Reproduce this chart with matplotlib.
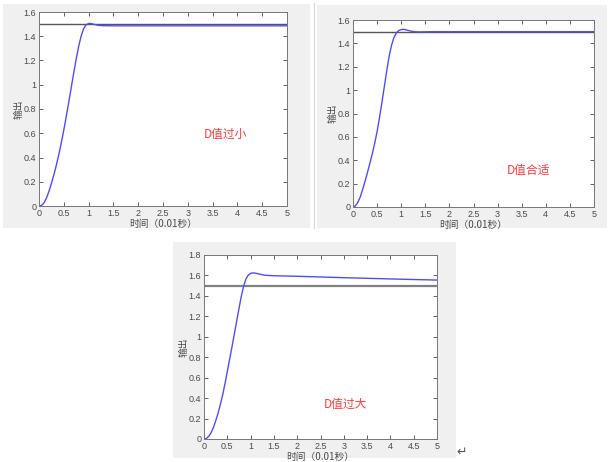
import matplotlib.pyplot as plt
from matplotlib.patches import Rectangle

plt.rcParams['font.family'] = ['Liberation Sans', 'Noto Sans CJK SC', 'DejaVu Sans']

W, H = 613, 462

# step response
t1 = [0, 0.05, 0.1, 0.15, 0.2, 0.25, 0.3, 0.35, 0.4, 0.45, 0.5, 0.55, 0.6, 0.65, 0.7, 0.75,
      0.8, 0.85, 0.9, 0.95, 1.0, 1.05, 1.1, 1.2, 1.3, 1.5, 5]
y1 = [0, 0.005, 0.025, 0.065, 0.12, 0.185, 0.257, 0.337, 0.425, 0.522, 0.627, 0.739, 0.857, 0.977,
      1.097, 1.212, 1.317, 1.402, 1.462, 1.494, 1.505, 1.505, 1.499, 1.49, 1.487, 1.486, 1.486]

t2 = [0, 0.05, 0.1, 0.15, 0.2, 0.25, 0.3, 0.35, 0.4, 0.45, 0.5, 0.55, 0.6, 0.65, 0.7, 0.75,
      0.8, 0.85, 0.9, 0.95, 1.0, 1.05, 1.1, 1.2, 1.3, 1.4, 1.6, 5]
y2 = [0, 0.01, 0.04, 0.085, 0.15, 0.22, 0.295, 0.375, 0.455, 0.545, 0.645, 0.765, 0.895, 1.03,
      1.165, 1.29, 1.385, 1.45, 1.49, 1.51, 1.518, 1.52, 1.516, 1.505, 1.499, 1.498, 1.5, 1.5]

t3 = [0, 0.05, 0.1, 0.15, 0.2, 0.25, 0.3, 0.35, 0.4, 0.45, 0.5, 0.55, 0.6, 0.65, 0.7, 0.75,
      0.8, 0.85, 0.9, 0.95, 1.0, 1.05, 1.1, 1.2, 1.3, 1.5, 2, 2.5, 3, 3.5, 4, 4.5, 5]
y3 = [0, 0.005, 0.025, 0.06, 0.11, 0.175, 0.25, 0.335, 0.43, 0.54, 0.66, 0.78, 0.9, 1.025, 1.15,
      1.275, 1.395, 1.495, 1.565, 1.603, 1.62, 1.625, 1.623, 1.612, 1.602, 1.597, 1.592, 1.585,
      1.578, 1.572, 1.566, 1.56, 1.555]

setpoint = 1.5
labels = ['D值过小', 'D值合适', 'D值过大']

# pixel boxes: gray panel (x0, y0, x1, y1), axes (x0, y0, x1, y1), text position in data units
panels = [
    dict(bg=(3, 4, 310, 228), ax=(39, 12, 287, 206), ymax=1.6, txt=(3.75, 0.59), t=t1, y=y1,
         ref=('#555555', 1.0)),
    dict(bg=(317, 5, 607, 228), ax=(353, 20, 594, 207), ymax=1.6, txt=(3.63, 0.31), t=t2, y=y2,
         ref=('#555555', 1.0)),
    dict(bg=(173, 242, 456, 458), ax=(204, 255, 437, 439), ymax=1.8, txt=(3.03, 0.34), t=t3, y=y3,
         ref=('#808080', 1.6)),
]

fig = plt.figure(figsize=(W / 100, H / 100), dpi=100)
fig.patch.set_facecolor('white')

gray = '#4a4a4a'
for p, lab in zip(panels, labels):
    x0, y0, x1, y1 = p['bg']
    fig.patches.append(Rectangle((x0 / W, 1 - y1 / H), (x1 - x0) / W, (y1 - y0) / H,
                                 transform=fig.transFigure, facecolor='#f0f0f0',
                                 edgecolor='none', zorder=-10))
    a0, b0, a1, b1 = p['ax']
    ax = fig.add_axes([a0 / W, 1 - b1 / H, (a1 - a0) / W, (b1 - b0) / H])
    ax.plot([0, 5], [setpoint, setpoint], color=p['ref'][0], lw=p['ref'][1])
    ax.plot(p['t'], p['y'], color='#4d4dff', lw=1.0)
    ax.set_xlim(0, 5)
    ax.set_ylim(0, p['ymax'])
    ax.set_xticks([0, 0.5, 1, 1.5, 2, 2.5, 3, 3.5, 4, 4.5, 5])
    ax.set_xticklabels(['0', '0.5', '1', '1.5', '2', '2.5', '3', '3.5', '4', '4.5', '5'])
    yt = [i * 0.2 for i in range(int(round(p['ymax'] / 0.2)) + 1)]
    ax.set_yticks(yt)
    ax.set_yticklabels(['0' if v == 0 else ('1' if abs(v - 1) < 1e-9 else f'{v:.1f}') for v in yt])
    ax.tick_params(direction='in', length=3, width=0.6, labelsize=6.5, colors=gray,
                   top=True, right=True, pad=2)
    for s in ax.spines.values():
        s.set_color('#777777')
        s.set_linewidth(0.7)
    ax.set_xlabel('时间（0.01秒）', fontsize=7, color=gray, labelpad=1,
                  family=['Noto Sans CJK SC', 'DejaVu Sans'])
    ax.set_ylabel('输出', fontsize=7, color=gray, labelpad=0,
                  family=['Noto Sans CJK SC', 'DejaVu Sans'])
    ax.text(p['txt'][0], p['txt'][1], lab, color='#ff3b3b', fontsize=8.5, ha='center', va='center',
            family=['Noto Sans CJK SC', 'DejaVu Sans'])

# thin divider between the two top screenshots and the return mark
fig.lines.append(plt.Line2D([313.5 / W, 313.5 / W], [1 - 228 / H, 1 - 3 / H],
                            transform=fig.transFigure, color='#d8d8d8', lw=0.8))
fig.text(462 / W, 1 - 452 / H, '↵', fontsize=9, color='#555555', ha='center', va='center',
         family=['DejaVu Sans'])

fig.savefig('out.png', dpi=100)
